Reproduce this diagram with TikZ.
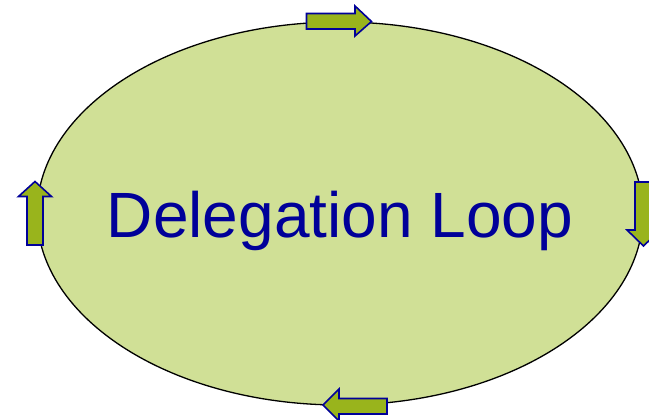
\documentclass[tikz,border=0pt]{standalone}
\usepackage{fontspec}
\setmainfont{Liberation Sans}
\definecolor{ellfill}{HTML}{D0E096}
\definecolor{arrfill}{HTML}{99B41C}
\definecolor{arrline}{HTML}{000099}
\definecolor{txtblue}{HTML}{000099}
\begin{document}
\begin{tikzpicture}[x=1pt,y=-1pt,
  loopshape/.style={draw=black,line width=1.3pt,fill=ellfill},
  blockarrow/.style={draw=arrline,line width=1.6pt,fill=arrfill,line join=miter}]
\useasboundingbox (0,0) rectangle (649,420);
\clip (0,0) rectangle (649,420);
\draw[loopshape] (340,213.5) ellipse [x radius=303, y radius=191.5];
\node[anchor=base,text=txtblue,font=\fontsize{64}{70}\selectfont,inner sep=0pt] (title) at (340,237) {Delegation Loop};
% top arrow (right)
\draw[blockarrow] (306.5,13.5) -- (355,13.5) -- (355,6) -- (371.5,21.5) -- (355,36) -- (355,29) -- (306.5,29) -- cycle;
% left arrow (up)
\draw[blockarrow] (27,245) -- (27,196.5) -- (18.5,196.5) -- (35,181.5) -- (51.5,196.5) -- (43,196.5) -- (43,245) -- cycle;
% right arrow (down)
\draw[blockarrow] (635,182) -- (635,230) -- (627,230) -- (643.5,246) -- (660,230) -- (652,230) -- (652,182) -- cycle;
% bottom arrow (left)
\draw[blockarrow] (387,398.5) -- (339,398.5) -- (339,389) -- (323,405) -- (339,421) -- (339,414) -- (387,414) -- cycle;
\end{tikzpicture}
\end{document}
